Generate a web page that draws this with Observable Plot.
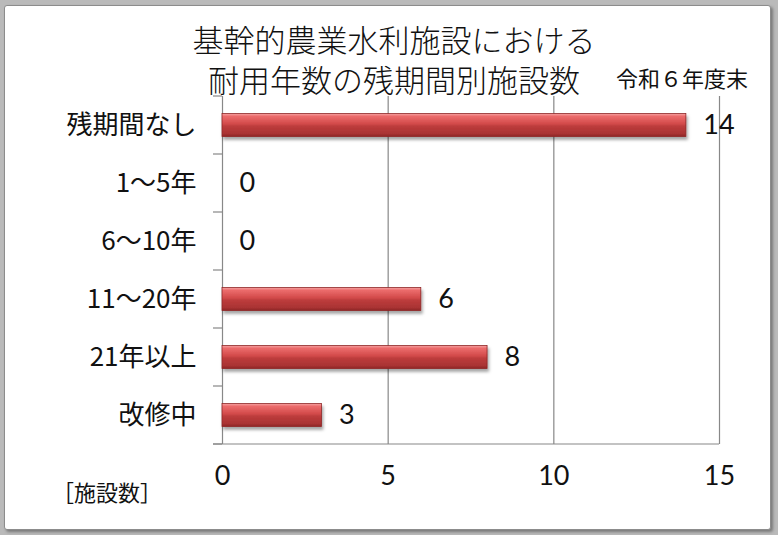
<!DOCTYPE html>
<html>
<head>
<meta charset="utf-8">
<script src="https://cdn.jsdelivr.net/npm/d3@7"></script>
<script src="https://cdn.jsdelivr.net/npm/@observablehq/plot@0.6"></script>
<style>
  html, body { margin: 0; padding: 0; background: #bababa; }
  #wrap { position: relative; width: 778px; height: 535px; overflow: hidden; background: #bababa;
          font-family: "Noto Sans CJK JP", sans-serif; color: #111; }
  #box { position: absolute; left: 4px; top: 5px; width: 765px; height: 523px; background: #fff;
         border: 1px solid #8c8c8c; border-radius: 3px; box-shadow: 2px 2px 3px rgba(0,0,0,0.35); }
  #chart { position: absolute; left: 0; top: 0; }
  .t { position: absolute; white-space: nowrap; }
  .title { font-size: 31px; line-height: 40px; font-weight: 300; }
</style>
</head>
<body>
<div id="wrap">
  <div id="box"></div>
  <div id="chart"></div>
  <div class="t title" style="left:0;width:788px;text-align:center;top:19px;">基幹的農業水利施設における<br>耐用年数の残期間別施設数</div>
  <div class="t" style="left:616px;top:63px;font-size:22px;line-height:28px;">令和６年度末</div>
  <div class="t" style="left:52px;top:477px;font-size:22px;line-height:28px;">［施設数］</div>
</div>
<script>
const categories = ["残期間なし", "1～5年", "6～10年", "11～20年", "21年以上", "改修中"];
const counts = [14, 0, 0, 6, 8, 3];
const xTicks = [0, 5, 10, 15];

const data = categories.map((c, i) => ({category: c, count: counts[i]}));

const numFont = "Lato, 'Noto Sans CJK JP', sans-serif";

const boundaryTicks = (index, scales, values, dims) => {
  const y = scales.y;
  const x = scales.x;
  const x0 = x(0);
  const g = d3.create("svg:g");
  const bw = y.bandwidth ? y.bandwidth() : (dims.height - dims.marginTop - dims.marginBottom) / categories.length;
  const ys = categories.map(c => y(c));
  ys.push(y(categories[categories.length - 1]) + bw);
  for (const yy of ys) {
    g.append("line").attr("x1", x0 - 9).attr("x2", x0).attr("y1", yy).attr("y2", yy)
      .attr("stroke", "#888").attr("stroke-width", 1.2);
  }
  const yb = ys[ys.length - 1];
  g.append("line").attr("x1", x0 - 9).attr("x2", x(15)).attr("y1", yb).attr("y2", yb)
    .attr("stroke", "#888").attr("stroke-width", 1.2);
  return g.node();
};

const plot = Plot.plot({
  width: 778,
  height: 535,
  marginTop: 96,
  marginBottom: 91,
  marginLeft: 222,
  marginRight: 59,
  style: {background: "transparent", overflow: "visible"},
  x: {domain: [0, 15], axis: null},
  y: {domain: categories, padding: 0, axis: null},
  marks: [
    Plot.ruleX(xTicks, {x: d => d, stroke: "#888", strokeWidth: 1.2}),
    boundaryTicks,
    Plot.barX(data, {x: "count", y: "category", fill: "url(#barGrad)", stroke: "#8e2626", strokeWidth: 0.8,
                     insetTop: 17.5, insetBottom: 17.5}),
    Plot.text(data, {x: "count", y: "category", text: d => String(d.count), textAnchor: "start", dx: 17,
                     fontSize: 27, fontFamily: numFont, fill: "#111"}),
    Plot.text(categories, {x: 0, y: d => d, text: d => d, textAnchor: "end", dx: -26,
                     fontSize: 26, fontFamily: "'Noto Sans CJK JP', sans-serif", fill: "#111"}),
    Plot.text(xTicks, {x: d => d, frameAnchor: "bottom", dy: 40, text: d => String(d),
                     fontSize: 27, fontFamily: numFont, fill: "#111"})
  ]
});

const svg = d3.select(plot);
const defs = svg.insert("defs", ":first-child");
const grad = defs.append("linearGradient").attr("id", "barGrad")
  .attr("x1", 0).attr("y1", 0).attr("x2", 0).attr("y2", 1);
[[0, "#f6a4a4"], [0.12, "#ec6c6c"], [0.45, "#d24a4a"], [0.55, "#bd3c3c"], [0.88, "#a93333"], [1, "#8a2424"]]
  .forEach(([o, c]) => grad.append("stop").attr("offset", o).attr("stop-color", c));
const f = defs.append("filter").attr("id", "barShadow").attr("x", "-5%").attr("y", "-30%")
  .attr("width", "115%").attr("height", "190%");
f.append("feDropShadow").attr("dx", 1.5).attr("dy", 3).attr("stdDeviation", 1.8)
  .attr("flood-color", "#000").attr("flood-opacity", 0.35);
svg.selectAll('g[aria-label="bar"]').attr("filter", "url(#barShadow)");

document.getElementById("chart").appendChild(plot);
</script>
</body>
</html>
